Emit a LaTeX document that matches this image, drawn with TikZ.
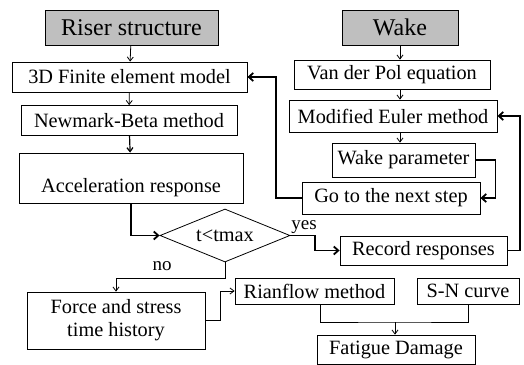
\documentclass[tikz,border=0pt]{standalone}
\usepackage{fontspec}
\setmainfont{Liberation Serif}
\usetikzlibrary{shapes.geometric,arrows.meta}
\begin{document}
\begin{tikzpicture}[x=1pt,y=-1pt,
  box/.style={draw,line width=0.8pt,inner sep=0pt,font=\fontsize{20.3}{23}\selectfont},
  head/.style={box,fill=gray!50,font=\fontsize{24}{28}\selectfont},
  thin/.style={line width=0.8pt,-{Straight Barb[length=4pt,width=6pt]}},
  thick/.style={line width=1.8pt,-{Straight Barb[length=4.5pt,width=8pt]}},
  lbl/.style={font=\fontsize{19}{22}\selectfont,inner sep=0pt}]
\useasboundingbox (0,0) rectangle (524,364);
% left column
\node[head,minimum width=173pt,minimum height=35pt] (riser) at (131.5,27.5) {Riser structure};
\node[box,minimum width=235pt,minimum height=30pt] (fem) at (129.5,77) {3D Finite element model};
\node[box,minimum width=216pt,minimum height=30pt] (newmark) at (129,120.5) {Newmark-Beta method};
\node[box,minimum width=224pt,minimum height=50pt,text height=30pt,text depth=2pt] (accel) at (131,178) {Acceleration response};
\node[draw,line width=0.8pt,diamond,aspect=2.45,minimum width=130pt,minimum height=53pt,inner sep=0pt,font=\fontsize{20.3}{23}\selectfont] (dia) at (225,235.5) {t<tmax};
\node[box,minimum width=178pt,minimum height=57pt,align=center] (force) at (116,320.5) {Force and stress\\time history};
% right column
\node[head,minimum width=116pt,minimum height=35pt] (wake) at (400,27.5) {Wake};
\node[box,minimum width=196pt,minimum height=29pt] (vdp) at (392,74.5) {Van der Pol equation};
\node[box,minimum width=208pt,minimum height=32pt] (euler) at (393,116) {Modified Euler method};
\node[box,minimum width=143pt,minimum height=34pt] (wpar) at (403.5,160) {Wake parameter};
\node[box,minimum width=178pt,minimum height=32pt] (go) at (391,198) {Go to the next step};
\node[box,minimum width=167pt,minimum height=29pt] (rec) at (423.5,250.5) {Record responses};
\node[box,minimum width=159pt,minimum height=26pt] (rain) at (314.5,291) {Rianflow method};
\node[box,minimum width=102pt,minimum height=26pt] (sn) at (468,291) {S-N curve};
\node[box,minimum width=158pt,minimum height=29pt] (fat) at (396,349.5) {Fatigue Damage};
% coordinates
\coordinate (jm) at (395,322);
% connectors
\draw[thin] (riser) -- (fem);
\draw[thin] (fem) -- (newmark);
\draw[thin,line width=1.2pt] (newmark) -- (accel);
\draw[thick] (accel.south) |- (dia.west);
\draw[thin] (wake) -- (wake |- vdp.north);
\draw[thin] (vdp) -- (vdp.south -| wake) -- (wake |- euler.north);
\draw[thin] (wake |- euler.south) -- (wake |- wpar.north);
\draw[thick] (wpar.east) -- ++(20,0) |- (go.east);
\draw[thick] (go.west) -- (276,198) |- (fem.east);
\draw[thick] (dia.east) -- (315,235.5) |- (rec.west);
\draw[thick] (rec.east) -- (520,250.5) |- (euler.east);
\draw[thin] (dia.south) -- (225,278) -| (force.north);
\draw[thin] (force.east) -- (220,320.5) |- (rain.west);
\draw[line width=0.8pt] (rain.south -| 320,0) |- (jm) -| (sn.south);
\draw[thin] (jm) -- (fat.north -| jm);
% labels
\node[lbl,anchor=south] (yes) at (304,234) {yes};
\node[lbl] (no) at (162,266) {no};
\end{tikzpicture}
\end{document}
